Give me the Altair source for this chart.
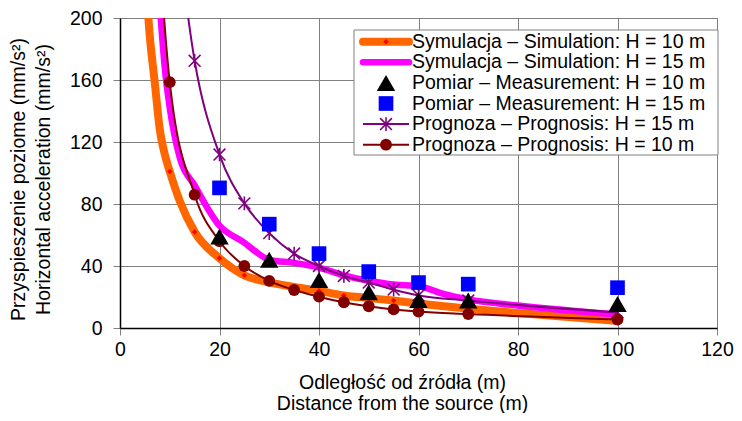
import altair as alt
import pandas as pd

# ---- data ----
sim10_x = [5, 6, 7, 8, 9, 10, 12, 15, 20, 25, 30, 35, 40, 45, 50, 55, 60, 70, 80, 100]
sim10_y = [232, 188, 158, 128, 112, 101, 82, 62, 45, 34, 29.5, 26.5, 24, 21, 19.3, 17.7, 15.8, 12.5, 9.7, 4.5]
sim10_dot_x = [10, 15, 20, 25, 30, 35, 40, 45, 50, 55, 60, 70, 100]

sim15_x = [5, 7, 8, 9, 10, 12, 15, 20, 25, 27, 30, 35, 40, 45, 50, 55, 60, 65, 70, 80, 100]
sim15_y = [380, 255, 208, 168, 142, 110, 92, 66, 55, 50, 44, 42, 39, 34, 30.5, 28, 27, 22, 18.5, 14.5, 8.7]

meas_x = [20, 30, 40, 50, 60, 70, 100]
meas10_y = [59, 44, 31, 23, 18, 17.7, 15.5]
meas15_y = [90.4, 67, 48, 36.4, 29.3, 28.3, 26]

prog15_x = [10, 15, 20, 25, 30, 35, 40, 45, 50, 55, 60, 70, 100]
prog15_y = [300, 172.4, 111.9, 80.4, 61.2, 48, 40, 33.6, 29.3, 24.8, 21, 17.7, 10]

prog10_x = [5, 10, 15, 20, 25, 30, 35, 40, 45, 50, 55, 60, 70, 100]
prog10_y = [420, 158.6, 86, 56, 40, 30.4, 24.5, 20.2, 16.6, 14, 12, 10.6, 9, 5.5]

legend_labels = [
    "Symulacja \u2013 Simulation: H = 10 m",
    "Symulacja \u2013 Simulation: H = 15 m",
    "Pomiar \u2013 Measurement: H = 10 m",
    "Pomiar \u2013 Measurement: H = 15 m",
    "Prognoza \u2013 Prognosis: H = 15 m",
    "Prognoza \u2013 Prognosis: H = 10 m",
]

x_ticks = [0, 20, 40, 60, 80, 100, 120]
y_ticks = [0, 40, 80, 120, 160, 200]

# ---- styles ----
FONT = "Liberation Sans"
FS = 19.5
ORANGE = "#FF6600"
MAGENTA = "#FF00FF"
PURPLE = "#800080"
DARKRED = "#800000"
BLUE = "#0000FF"
GRID = "#808080"
ASTERISK = "M-1,-1L1,1M-1,1L1,-1M0,-1.15L0,1.15"

W, H = 597, 310

sim10 = pd.DataFrame({"x": sim10_x, "y": sim10_y})
sim10_dots = sim10[sim10["x"].isin(sim10_dot_x)]
sim15 = pd.DataFrame({"x": sim15_x, "y": sim15_y})
meas10 = pd.DataFrame({"x": meas_x, "y": meas10_y})
meas15 = pd.DataFrame({"x": meas_x, "y": meas15_y})
prog15 = pd.DataFrame({"x": prog15_x, "y": prog15_y})
prog10 = pd.DataFrame({"x": prog10_x, "y": prog10_y})

xs = alt.Scale(domain=[0, 120], nice=False)
ys = alt.Scale(domain=[0, 200], nice=False)

x_axis = alt.Axis(
    values=x_ticks, grid=True, gridColor=GRID, gridWidth=1,
    domainColor="black", domainWidth=1.5, tickColor=GRID, tickSize=7,
    labelFont=FONT, labelFontSize=FS, labelColor="black", labelPadding=5,
    labelFlush=False, labelOverlap=False,
    title=["Odleg\u0142o\u015b\u0107 od \u017ar\u00f3d\u0142a (m)", "Distance from the source (m)"],
    titleFont=FONT, titleFontSize=FS, titleFontWeight="normal", titleColor="black",
    titleLineHeight=21.5, titleX=282, titleY=54, titleBaseline="middle", titleAlign="center",
)
y_axis = alt.Axis(
    values=y_ticks, grid=True, gridColor=GRID, gridWidth=1,
    domainColor="black", domainWidth=1.5, tickColor=GRID, tickSize=7,
    labelFont=FONT, labelFontSize=FS, labelColor="black", labelPadding=11,
    labelFlush=False, labelOverlap=False,
    title=["Przyspieszenie poziome (mm/s\u00b2)", "Horizontal acceleration (mm/s\u00b2)"],
    titleFont=FONT, titleFontSize=FS, titleFontWeight="normal", titleColor="black",
    titleLineHeight=25, titleX=-102, titleY=161, titleBaseline="middle", titleAlign="center",
    titleAngle=270,
)


def enc(ch, axis=True):
    return ch.encode(
        x=alt.X("x:Q", scale=xs, axis=x_axis if axis else None),
        y=alt.Y("y:Q", scale=ys, axis=y_axis if axis else None),
    )


l_sim10 = enc(alt.Chart(sim10).mark_line(color=ORANGE, strokeWidth=8, interpolate="monotone", clip=True))
l_sim15 = enc(alt.Chart(sim15).mark_line(color=MAGENTA, strokeWidth=6.5, interpolate="monotone", clip=True))
l_prog15 = enc(alt.Chart(prog15).mark_line(color=PURPLE, strokeWidth=2, interpolate="monotone", clip=True))
l_prog10 = enc(alt.Chart(prog10).mark_line(color=DARKRED, strokeWidth=2, interpolate="monotone", clip=True))
p_sim10 = enc(alt.Chart(sim10_dots).mark_point(shape="diamond", filled=True, color="#FF0000", size=30, opacity=1, clip=True))
p_prog15 = enc(alt.Chart(prog15).mark_point(shape=ASTERISK, filled=False, color=PURPLE, strokeWidth=1.6, size=140, opacity=1, clip=True))
p_prog10 = enc(alt.Chart(prog10).mark_point(shape="circle", filled=True, color=DARKRED, size=140, opacity=1, clip=True))
p_meas15 = enc(alt.Chart(meas15).mark_point(shape="square", filled=True, color=BLUE, size=215, opacity=1, clip=True))
p_meas10 = enc(alt.Chart(meas10).mark_point(shape="triangle-up", filled=True, color="black", size=340, opacity=1, clip=True))

# ---- legend (drawn manually, Excel-style) ----
one = pd.DataFrame({"k": [0]})
leg_box = alt.Chart(one).mark_rect(fill="white", stroke=GRID, strokeWidth=1).encode(
    x=alt.value(234), x2=alt.value(598), y=alt.value(12), y2=alt.value(137)
)
row_y = [23.7 + 20.6 * i for i in range(6)]
lx1, lx2, sx, tx = 243, 289, 266, 292

leg_layers = [leg_box]
line_styles = [(ORANGE, 8), (MAGENTA, 6.5), None, None, (PURPLE, 2), (DARKRED, 2)]
for i, ls in enumerate(line_styles):
    if ls:
        leg_layers.append(
            alt.Chart(one).mark_rule(color=ls[0], strokeWidth=ls[1], strokeCap="round" if ls[1] > 3 else "butt").encode(
                x=alt.value(lx1), x2=alt.value(lx2), y=alt.value(row_y[i])
            )
        )
sym_styles = [
    dict(shape="diamond", filled=True, color="#FF0000", size=30),
    None,
    dict(shape="triangle-up", filled=True, color="black", size=340),
    dict(shape="square", filled=True, color=BLUE, size=215),
    dict(shape=ASTERISK, filled=False, color=PURPLE, strokeWidth=1.6, size=140),
    dict(shape="circle", filled=True, color=DARKRED, size=140),
]
for i, ss in enumerate(sym_styles):
    if ss:
        leg_layers.append(
            alt.Chart(one).mark_point(opacity=1, **ss).encode(x=alt.value(sx), y=alt.value(row_y[i]))
        )
for i, lab in enumerate(legend_labels):
    leg_layers.append(
        alt.Chart(pd.DataFrame({"label": [lab]})).mark_text(
            align="left", baseline="middle", font=FONT, fontSize=FS, color="black"
        ).encode(x=alt.value(tx), y=alt.value(row_y[i]), text="label:N")
    )

chart = alt.layer(
    l_sim10, l_sim15, l_prog15, l_prog10,
    p_sim10, p_prog15, p_prog10, p_meas15, p_meas10,
    *leg_layers,
).properties(
    width=W, height=H,
    padding={"left": 112, "top": 10, "right": 17, "bottom": 85},
    autosize=alt.AutoSizeParams(type="none"),
    background="white",
).configure_view(stroke=GRID, strokeWidth=1)

chart.save("out.html", embed_options={"renderer": "svg", "actions": False})
